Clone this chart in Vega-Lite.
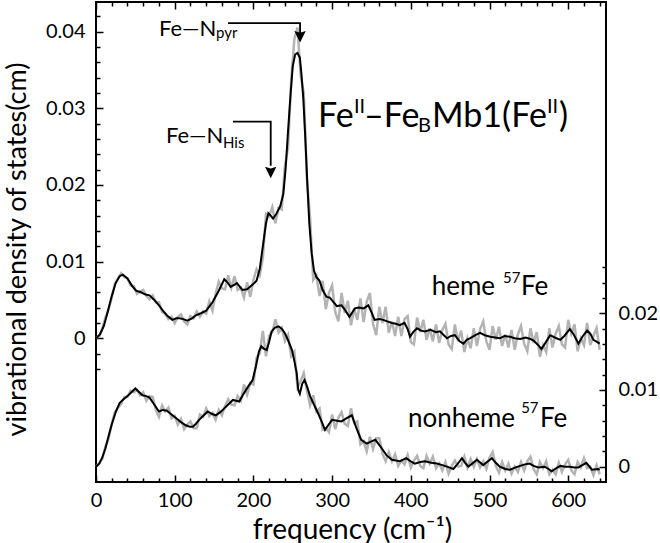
{
  "$schema": "https://vega.github.io/schema/vega-lite/v6.json",
  "width": 510,
  "height": 480,
  "autosize": "none",
  "padding": {"left": 96, "top": 2, "right": 54, "bottom": 61},
  "config": {
    "view": {"stroke": "black", "strokeWidth": 2},
    "font": "Lato",
    "axis": {"grid": false, "domain": false, "labelFont": "Lato", "labelFontSize": 20, "labelColor": "black", "tickColor": "black", "tickWidth": 1.5, "titleFont": "Lato", "titleFontWeight": "normal", "titleColor": "black", "labelFlush": false, "labelOverlap": false},
    "text": {"font": "Lato", "color": "black"}
  },
  "datasets": {
    "hemeFit": [
      {"f":0,"v":0},{"f":5,"v":0.0005},{"f":10,"v":0.0016},{"f":15,"v":0.0035},{"f":20,"v":0.0055},{"f":25,"v":0.0072},{"f":30,"v":0.0081},{"f":34,"v":0.0083},{"f":40,"v":0.0078},{"f":46,"v":0.0068},{"f":51,"v":0.0062},{"f":57,"v":0.006},{"f":63,"v":0.0057},{"f":68,"v":0.0056},{"f":74,"v":0.005},{"f":80,"v":0.0043},{"f":85,"v":0.0036},{"f":91,"v":0.0029},{"f":97,"v":0.0024},{"f":102,"v":0.0026},{"f":106,"v":0.0026},{"f":111,"v":0.0025},{"f":116,"v":0.0023},{"f":122,"v":0.0026},{"f":127,"v":0.003},{"f":134,"v":0.0033},{"f":140,"v":0.0036},{"f":148,"v":0.0047},{"f":156,"v":0.0062},{"f":163,"v":0.0077},{"f":167,"v":0.0073},{"f":171,"v":0.0067},{"f":176,"v":0.007},{"f":179,"v":0.0072},{"f":186,"v":0.0063},{"f":192,"v":0.0064},{"f":199,"v":0.007},{"f":204,"v":0.0075},{"f":208,"v":0.009},{"f":212,"v":0.012},{"f":216,"v":0.015},{"f":219,"v":0.0163},{"f":222,"v":0.016},{"f":225,"v":0.0156},{"f":229,"v":0.0162},{"f":234,"v":0.0172},{"f":238,"v":0.0188},{"f":241,"v":0.0222},{"f":244,"v":0.027},{"f":247,"v":0.0315},{"f":250,"v":0.0355},{"f":253,"v":0.037},{"f":256,"v":0.0372},{"f":259,"v":0.0366},{"f":261,"v":0.0345},{"f":263.5,"v":0.0311},{"f":266,"v":0.026},{"f":268.5,"v":0.0202},{"f":271,"v":0.015},{"f":274,"v":0.0111},{"f":277,"v":0.0088},{"f":280,"v":0.008},{"f":284,"v":0.0075},{"f":288,"v":0.0063},{"f":293,"v":0.0054},{"f":297,"v":0.0053},{"f":301,"v":0.0048},{"f":306,"v":0.0042},{"f":312,"v":0.0043},{"f":317,"v":0.0036},{"f":322,"v":0.0028},{"f":329,"v":0.0039},{"f":334,"v":0.004},{"f":340,"v":0.0039},{"f":346,"v":0.0043},{"f":350,"v":0.0034},{"f":354,"v":0.0024},{"f":360,"v":0.0025},{"f":365,"v":0.0024},{"f":370,"v":0.0022},{"f":376,"v":0.002},{"f":381,"v":0.0019},{"f":386,"v":0.0017},{"f":392,"v":0.002},{"f":396,"v":0.0012},{"f":399,"v":0.0002},{"f":403,"v":0.0008},{"f":408,"v":0.0013},{"f":413,"v":0.001},{"f":418,"v":0.0009},{"f":425,"v":0.0011},{"f":432,"v":0.0008},{"f":437,"v":0.0009},{"f":442,"v":0.0004},{"f":446,"v":0},{"f":451,"v":0.0003},{"f":456,"v":0.0004},{"f":462,"v":-0.0004},{"f":467,"v":-0.0007},{"f":471,"v":-0.0002},{"f":475,"v":0},{"f":482,"v":0.0004},{"f":488,"v":0.0007},{"f":494,"v":0.0004},{"f":501,"v":0.0002},{"f":507,"v":0.0001},{"f":513,"v":0},{"f":519,"v":0.0003},{"f":526,"v":0.0002},{"f":532,"v":0},{"f":539,"v":-0.0001},{"f":546,"v":0.0001},{"f":552,"v":-0.0001},{"f":556,"v":-0.0003},{"f":561,"v":-0.0008},{"f":566,"v":-0.0014},{"f":571,"v":-0.0006},{"f":577,"v":0.0004},{"f":583,"v":0.0001},{"f":590,"v":-0.0002},{"f":595,"v":0.0003},{"f":602,"v":0.0012},{"f":607,"v":0.0005},{"f":613,"v":-0.0007},{"f":618,"v":0.0002},{"f":624,"v":0.001},{"f":628,"v":0.0006},{"f":632,"v":-0.0002},{"f":637,"v":-0.0005},{"f":640,"v":-0.0007}
    ],
    "hemeRaw": [
      {"f":0,"v":0.0001},{"f":4,"v":0.0002},{"f":8,"v":0.0013},{"f":12,"v":0.0027},{"f":16,"v":0.0038},{"f":20,"v":0.0053},{"f":24,"v":0.0071},{"f":28,"v":0.0078},{"f":32,"v":0.0085},{"f":36,"v":0.008},{"f":40,"v":0.0078},{"f":44,"v":0.0069},{"f":48,"v":0.0068},{"f":52,"v":0.0058},{"f":56,"v":0.0061},{"f":60,"v":0.0063},{"f":64,"v":0.0055},{"f":68,"v":0.0051},{"f":72,"v":0.0056},{"f":76,"v":0.0047},{"f":80,"v":0.0047},{"f":84,"v":0.0034},{"f":88,"v":0.0032},{"f":92,"v":0.0025},{"f":96,"v":0.0028},{"f":100,"v":0.002},{"f":104,"v":0.0028},{"f":108,"v":0.0031},{"f":112,"v":0.0022},{"f":116,"v":0.0018},{"f":120,"v":0.0029},{"f":124,"v":0.0026},{"f":128,"v":0.0035},{"f":132,"v":0.0028},{"f":136,"v":0.0035},{"f":140,"v":0.0032},{"f":144,"v":0.0048},{"f":148,"v":0.0036},{"f":152,"v":0.0058},{"f":156,"v":0.0074},{"f":160,"v":0.0065},{"f":164,"v":0.0064},{"f":168,"v":0.0082},{"f":172,"v":0.0066},{"f":176,"v":0.0081},{"f":180,"v":0.0063},{"f":184,"v":0.0066},{"f":188,"v":0.0053},{"f":192,"v":0.0073},{"f":196,"v":0.0054},{"f":200,"v":0.0076},{"f":204,"v":0.009},{"f":208,"v":0.0082},{"f":212,"v":0.0105},{"f":216,"v":0.0162},{"f":220,"v":0.0159},{"f":224,"v":0.0171},{"f":228,"v":0.015},{"f":232,"v":0.017},{"f":236,"v":0.0168},{"f":240,"v":0.0225},{"f":244,"v":0.0248},{"f":248,"v":0.0336},{"f":252,"v":0.039},{"f":256,"v":0.0405},{"f":260,"v":0.0343},{"f":264,"v":0.032},{"f":268,"v":0.0208},{"f":272,"v":0.0157},{"f":276,"v":0.0076},{"f":280,"v":0.0082},{"f":284,"v":0.0055},{"f":288,"v":0.0075},{"f":292,"v":0.0038},{"f":296,"v":0.0059},{"f":300,"v":0.0069},{"f":304,"v":0.0034},{"f":308,"v":0.0022},{"f":312,"v":0.0059},{"f":316,"v":0.0033},{"f":320,"v":0.0049},{"f":324,"v":0.0017},{"f":328,"v":0.0039},{"f":332,"v":0.0024},{"f":336,"v":0.0052},{"f":340,"v":0.0021},{"f":344,"v":0.0048},{"f":348,"v":0.0059},{"f":352,"v":0.0019},{"f":356,"v":0.0004},{"f":360,"v":0.0041},{"f":364,"v":0.002},{"f":368,"v":0.0041},{"f":372,"v":0.0007},{"f":376,"v":0.0022},{"f":380,"v":0.0003},{"f":384,"v":0.0028},{"f":388,"v":0.0003},{"f":392,"v":0.0025},{"f":396,"v":0.0029},{"f":400,"v":-0.0005},{"f":404,"v":-0.0008},{"f":408,"v":0.0027},{"f":412,"v":0.0008},{"f":416,"v":0.0024},{"f":420,"v":-0.0002},{"f":424,"v":0.0013},{"f":428,"v":-0.0004},{"f":432,"v":0.0018},{"f":436,"v":-0.0006},{"f":440,"v":0.0011},{"f":444,"v":0.0019},{"f":448,"v":-0.0008},{"f":452,"v":-0.0014},{"f":456,"v":0.0018},{"f":460,"v":-0.0004},{"f":464,"v":0.001},{"f":468,"v":-0.0018},{"f":472,"v":0},{"f":476,"v":-0.0013},{"f":480,"v":0.0013},{"f":484,"v":-0.001},{"f":488,"v":0.0012},{"f":492,"v":0.0022},{"f":496,"v":-0.0004},{"f":500,"v":-0.0015},{"f":504,"v":0.0016},{"f":508,"v":-0.0002},{"f":512,"v":0.0015},{"f":516,"v":-0.001},{"f":520,"v":0.0005},{"f":524,"v":-0.0012},{"f":528,"v":0.0011},{"f":532,"v":-0.0015},{"f":536,"v":0.0005},{"f":540,"v":0.0016},{"f":544,"v":-0.0007},{"f":548,"v":-0.0017},{"f":552,"v":0.0013},{"f":556,"v":-0.0006},{"f":560,"v":0.0008},{"f":564,"v":-0.0024},{"f":568,"v":-0.0009},{"f":572,"v":-0.0018},{"f":576,"v":0.0013},{"f":580,"v":-0.0012},{"f":584,"v":0.0006},{"f":588,"v":0.0016},{"f":592,"v":-0.0008},{"f":596,"v":-0.0012},{"f":600,"v":0.0024},{"f":604,"v":0.0006},{"f":608,"v":0.0018},{"f":612,"v":-0.0017},{"f":616,"v":0},{"f":620,"v":-0.0009},{"f":624,"v":0.002},{"f":628,"v":-0.0009},{"f":632,"v":0.0003},{"f":636,"v":0.0013},{"f":640,"v":-0.0015}
    ],
    "nhFit": [
      {"f":0,"v":0},{"f":4,"v":0.0004},{"f":8,"v":0.0012},{"f":12,"v":0.0024},{"f":16,"v":0.004},{"f":20,"v":0.0055},{"f":25,"v":0.0071},{"f":30,"v":0.0083},{"f":35,"v":0.0088},{"f":40,"v":0.0092},{"f":45,"v":0.0097},{"f":50,"v":0.0102},{"f":55,"v":0.0097},{"f":59,"v":0.0093},{"f":64,"v":0.0092},{"f":68,"v":0.009},{"f":74,"v":0.0081},{"f":80,"v":0.0072},{"f":85,"v":0.0074},{"f":90,"v":0.0073},{"f":96,"v":0.0068},{"f":102,"v":0.0063},{"f":108,"v":0.0058},{"f":114,"v":0.0054},{"f":119,"v":0.0052},{"f":123,"v":0.0052},{"f":127,"v":0.0056},{"f":131,"v":0.0061},{"f":137,"v":0.0067},{"f":142,"v":0.0072},{"f":147,"v":0.0069},{"f":152,"v":0.0067},{"f":158,"v":0.0071},{"f":163,"v":0.0076},{"f":168,"v":0.0081},{"f":174,"v":0.0087},{"f":178,"v":0.0086},{"f":182,"v":0.0085},{"f":187,"v":0.0094},{"f":193,"v":0.0104},{"f":199,"v":0.0113},{"f":203,"v":0.013},{"f":207,"v":0.015},{"f":210,"v":0.0157},{"f":213,"v":0.0154},{"f":217,"v":0.0152},{"f":220,"v":0.0163},{"f":223,"v":0.0176},{"f":227,"v":0.0181},{"f":232,"v":0.0183},{"f":236,"v":0.018},{"f":240,"v":0.0174},{"f":244,"v":0.0165},{"f":249,"v":0.0152},{"f":252,"v":0.0138},{"f":255,"v":0.0122},{"f":257,"v":0.01},{"f":259,"v":0.0095},{"f":262,"v":0.0108},{"f":265,"v":0.0113},{"f":268,"v":0.0105},{"f":272,"v":0.0092},{"f":276,"v":0.0083},{"f":282,"v":0.007},{"f":287,"v":0.0058},{"f":291,"v":0.0048},{"f":295,"v":0.0054},{"f":300,"v":0.0061},{"f":306,"v":0.006},{"f":312,"v":0.0059},{"f":318,"v":0.0063},{"f":325,"v":0.0067},{"f":331,"v":0.005},{"f":337,"v":0.0035},{"f":344,"v":0.003},{"f":350,"v":0.0033},{"f":355,"v":0.0035},{"f":363,"v":0.0024},{"f":369,"v":0.0015},{"f":376,"v":0.0009},{"f":386,"v":0.0007},{"f":394,"v":0.0011},{"f":400,"v":0.0007},{"f":405,"v":0.0004},{"f":412,"v":0.0006},{"f":418,"v":0.0007},{"f":426,"v":0.0005},{"f":433,"v":0.0004},{"f":440,"v":0.0002},{"f":446,"v":0},{"f":454,"v":-0.0003},{"f":459,"v":0.0003},{"f":465,"v":0.0011},{"f":469,"v":0.0005},{"f":473,"v":0},{"f":478,"v":0.0004},{"f":484,"v":0.0009},{"f":492,"v":0.0002},{"f":498,"v":0.0007},{"f":503,"v":0.0011},{"f":508,"v":0.0005},{"f":513,"v":0},{"f":520,"v":-0.0003},{"f":526,"v":-0.0004},{"f":533,"v":-0.0001},{"f":539,"v":0.0001},{"f":545,"v":0.0003},{"f":551,"v":0.0004},{"f":556,"v":0.0001},{"f":562,"v":-0.0001},{"f":570,"v":0},{"f":575,"v":-0.0003},{"f":579,"v":-0.0006},{"f":585,"v":-0.0002},{"f":590,"v":0.0001},{"f":596,"v":0},{"f":602,"v":0},{"f":608,"v":-0.0001},{"f":613,"v":-0.0001},{"f":618,"v":0.0002},{"f":623,"v":0.0005},{"f":627,"v":0},{"f":630,"v":-0.0004},{"f":638,"v":-0.0003},{"f":640,"v":-0.0004}
    ],
    "nhRaw": [
      {"f":0,"v":0},{"f":4,"v":0.0004},{"f":8,"v":0.001},{"f":12,"v":0.0026},{"f":16,"v":0.0037},{"f":20,"v":0.0056},{"f":24,"v":0.0071},{"f":28,"v":0.0077},{"f":32,"v":0.0082},{"f":36,"v":0.0091},{"f":40,"v":0.0091},{"f":44,"v":0.0099},{"f":48,"v":0.0097},{"f":52,"v":0.01},{"f":56,"v":0.0093},{"f":60,"v":0.0097},{"f":64,"v":0.0086},{"f":68,"v":0.0092},{"f":72,"v":0.0091},{"f":76,"v":0.0074},{"f":80,"v":0.0065},{"f":84,"v":0.008},{"f":88,"v":0.0072},{"f":92,"v":0.0077},{"f":96,"v":0.0063},{"f":100,"v":0.0066},{"f":104,"v":0.0055},{"f":108,"v":0.0062},{"f":112,"v":0.0049},{"f":116,"v":0.0055},{"f":120,"v":0.0059},{"f":124,"v":0.005},{"f":128,"v":0.005},{"f":132,"v":0.0068},{"f":136,"v":0.0065},{"f":140,"v":0.0076},{"f":144,"v":0.0066},{"f":148,"v":0.007},{"f":152,"v":0.0061},{"f":156,"v":0.0074},{"f":160,"v":0.0067},{"f":164,"v":0.0079},{"f":168,"v":0.0088},{"f":172,"v":0.0081},{"f":176,"v":0.008},{"f":180,"v":0.0092},{"f":184,"v":0.0086},{"f":188,"v":0.0107},{"f":192,"v":0.0094},{"f":196,"v":0.0109},{"f":200,"v":0.0107},{"f":204,"v":0.0142},{"f":208,"v":0.0148},{"f":212,"v":0.0177},{"f":216,"v":0.0144},{"f":220,"v":0.0171},{"f":224,"v":0.0175},{"f":228,"v":0.0192},{"f":232,"v":0.0175},{"f":236,"v":0.0181},{"f":240,"v":0.0164},{"f":244,"v":0.0172},{"f":248,"v":0.0144},{"f":252,"v":0.015},{"f":256,"v":0.0104},{"f":260,"v":0.0111},{"f":264,"v":0.0122},{"f":268,"v":0.0099},{"f":272,"v":0.008},{"f":276,"v":0.0093},{"f":280,"v":0.0072},{"f":284,"v":0.0076},{"f":288,"v":0.0048},{"f":292,"v":0.005},{"f":296,"v":0.0045},{"f":300,"v":0.0068},{"f":304,"v":0.0049},{"f":308,"v":0.0064},{"f":312,"v":0.0071},{"f":316,"v":0.0056},{"f":320,"v":0.0053},{"f":324,"v":0.0076},{"f":328,"v":0.0057},{"f":332,"v":0.0059},{"f":336,"v":0.0029},{"f":340,"v":0.0033},{"f":344,"v":0.002},{"f":348,"v":0.0039},{"f":352,"v":0.0023},{"f":356,"v":0.0037},{"f":360,"v":0.0037},{"f":364,"v":0.0017},{"f":368,"v":0.0007},{"f":372,"v":0.0019},{"f":376,"v":0.0007},{"f":380,"v":0.0016},{"f":384,"v":0.0001},{"f":388,"v":0.0008},{"f":392,"v":0.0003},{"f":396,"v":0.0015},{"f":400,"v":-0.0001},{"f":404,"v":0.0008},{"f":408,"v":0.0014},{"f":412,"v":0.0001},{"f":416,"v":-0.0002},{"f":420,"v":0.0014},{"f":424,"v":0.0004},{"f":428,"v":0.0013},{"f":432,"v":-0.0002},{"f":436,"v":0.0004},{"f":440,"v":-0.0005},{"f":444,"v":0.0006},{"f":448,"v":-0.0009},{"f":452,"v":0.0001},{"f":456,"v":0.0008},{"f":460,"v":0},{"f":464,"v":0.0001},{"f":468,"v":0.0013},{"f":472,"v":-0.0001},{"f":476,"v":0.001},{"f":480,"v":0},{"f":484,"v":0.001},{"f":488,"v":-0.0001},{"f":492,"v":0.0007},{"f":496,"v":-0.0003},{"f":500,"v":0.0012},{"f":504,"v":0.0019},{"f":508,"v":0.0001},{"f":512,"v":-0.0008},{"f":516,"v":0.0006},{"f":520,"v":-0.0005},{"f":524,"v":0.0004},{"f":528,"v":-0.0009},{"f":532,"v":0},{"f":536,"v":-0.0007},{"f":540,"v":0.0006},{"f":544,"v":-0.0005},{"f":548,"v":0.0007},{"f":552,"v":0.0013},{"f":556,"v":-0.0003},{"f":560,"v":-0.001},{"f":564,"v":0.0006},{"f":568,"v":-0.0002},{"f":572,"v":0.0007},{"f":576,"v":-0.001},{"f":580,"v":-0.0004},{"f":584,"v":-0.001},{"f":588,"v":0.0005},{"f":592,"v":-0.0007},{"f":596,"v":0.0003},{"f":600,"v":0.0009},{"f":604,"v":-0.0005},{"f":608,"v":-0.001},{"f":612,"v":0.0006},{"f":616,"v":-0.0001},{"f":620,"v":0.0011},{"f":624,"v":-0.0002},{"f":628,"v":0},{"f":632,"v":-0.0011},{"f":636,"v":0.0002},{"f":640,"v":-0.001}
    ],
    "titleMain": [
      {"t":"Fe","f":282.1,"v":0.02759},{"t":"–Fe","f":340.5,"v":0.02759},{"t":"Mb1(Fe","f":426.9,"v":0.02759},{"t":")","f":588.3,"v":0.02759}
    ],
    "titleSup": [
      {"t":"II","f":327.8,"v":0.02937},{"t":"II","f":573,"v":0.02937}
    ],
    "titleSub": [
      {"t":"B","f":409.1,"v":0.02694}
    ],
    "labels": [
      {"t":"heme","f":426.5,"v":0.00565},{"t":"Fe","f":540,"v":0.00565},{"t":"nonheme","f":396.4,"v":-0.01153},{"t":"Fe","f":564.1,"v":-0.01153}
    ],
    "labelSup": [
      {"t":"57","f":517.1,"v":0.00721},{"t":"57","f":540.2,"v":-0.00974}
    ],
    "peak": [
      {"t":"Fe—N","f":80,"v":0.03945},{"t":"Fe—N","f":88.9,"v":0.0255}
    ],
    "peakSub": [
      {"t":"pyr","f":152.5,"v":0.0392},{"t":"His","f":161.4,"v":0.02477}
    ],
    "arrows": [
      {"id":"pyr","i":0,"f":167.7,"v":0.0411},{"id":"pyr","i":1,"f":259.3,"v":0.0411},{"id":"pyr","i":2,"f":259.3,"v":0.0395},
      {"id":"his","i":0,"f":174,"v":0.02824},{"id":"his","i":1,"f":222,"v":0.02824},{"id":"his","i":2,"f":222,"v":0.0225}
    ],
    "heads": [
      {"f":259.3,"v":0.03932},{"f":222,"v":0.02162}
    ]
  },
  "layer": [
    {
      "layer": [
        {
          "data": {"name": "hemeRaw"},
          "mark": {"type": "line", "color": "#b3b3b3", "strokeWidth": 2.5},
          "encoding": {
            "x": {"field": "f", "type": "quantitative", "scale": {"domain": [0, 648], "nice": false, "zero": false},
                  "axis": {"orient": "bottom", "values": [0,100,200,300,400,500,600], "tickSize": -7, "labelPadding": 15, "title": "frequency (cm⁻¹)", "titleFontSize": 28, "titleX": 256, "titleY": 56, "titleBaseline": "alphabetic", "titleAlign": "center"}},
            "y": {"field": "v", "type": "quantitative", "scale": {"domain": [-0.01874, 0.04385], "nice": false, "zero": false},
                  "axis": {"orient": "left", "values": [0,0.01,0.02,0.03,0.04], "format": ".2~f", "tickSize": -7, "labelPadding": 18, "title": "vibrational density of states(cm)", "titleFontSize": 27, "titleX": -71, "titleY": 247, "titleAngle": -90, "titleBaseline": "alphabetic", "titleAlign": "center"}}
          }
        },
        {
          "data": {"name": "hemeFit"},
          "mark": {"type": "line", "color": "black", "strokeWidth": 2},
          "encoding": {
            "x": {"field": "f", "type": "quantitative", "scale": {"domain": [0, 648], "nice": false, "zero": false},
                  "axis": {"orient": "bottom", "values": [20,40,60,80,120,140,160,180,220,240,260,280,320,340,360,380,420,440,460,480,520,540,560,580,620,640], "tickSize": -4, "labels": false, "title": null}},
            "y": {"field": "v", "type": "quantitative", "scale": {"domain": [-0.01874, 0.04385], "nice": false, "zero": false},
                  "axis": {"orient": "left", "values": [-0.004,-0.002,0.002,0.004,0.006,0.008,0.012,0.014,0.016,0.018,0.022,0.024,0.026,0.028,0.032,0.034,0.036,0.038,0.042], "tickSize": -4, "labels": false, "title": null}}
          }
        },
        {
          "mark": {"type": "rule", "color": "black", "strokeWidth": 1.5, "strokeDash": [4, 4]},
          "encoding": {
            "y": {"datum": 0, "type": "quantitative", "scale": {"domain": [-0.01874, 0.04385], "nice": false, "zero": false}, "axis": null}
          }
        },
        {
          "data": {"name": "arrows"},
          "mark": {"type": "line", "color": "black", "strokeWidth": 1.8},
          "encoding": {
            "x": {"field": "f", "type": "quantitative", "scale": {"domain": [0, 648], "nice": false, "zero": false}, "axis": null},
            "y": {"field": "v", "type": "quantitative", "scale": {"domain": [-0.01874, 0.04385], "nice": false, "zero": false}, "axis": null},
            "detail": {"field": "id"},
            "order": {"field": "i", "type": "quantitative"}
          }
        },
        {
          "data": {"name": "heads"},
          "mark": {"type": "point", "shape": "M0,1L-1,-1L0,-0.7L1,-1Z", "filled": true, "color": "black", "size": 130, "opacity": 1},
          "encoding": {
            "x": {"field": "f", "type": "quantitative", "scale": {"domain": [0, 648], "nice": false, "zero": false}, "axis": null},
            "y": {"field": "v", "type": "quantitative", "scale": {"domain": [-0.01874, 0.04385], "nice": false, "zero": false}, "axis": null}
          }
        },
        {
          "data": {"name": "titleMain"},
          "mark": {"type": "text", "fontSize": 34, "align": "left", "baseline": "alphabetic", "color": "black"},
          "encoding": {
            "x": {"field": "f", "type": "quantitative", "scale": {"domain": [0, 648], "nice": false, "zero": false},
                  "axis": {"orient": "top", "values": [0,100,200,300,400,500,600], "tickSize": -7, "labels": false, "title": null}},
            "y": {"field": "v", "type": "quantitative", "scale": {"domain": [-0.01874, 0.04385], "nice": false, "zero": false}, "axis": null},
            "text": {"field": "t"}
          }
        },
        {
          "data": {"name": "titleSup"},
          "mark": {"type": "text", "fontSize": 20, "align": "left", "baseline": "alphabetic", "color": "black"},
          "encoding": {
            "x": {"field": "f", "type": "quantitative", "scale": {"domain": [0, 648], "nice": false, "zero": false},
                  "axis": {"orient": "top", "values": [20,40,60,80,120,140,160,180,220,240,260,280,320,340,360,380,420,440,460,480,520,540,560,580,620,640], "tickSize": -4, "labels": false, "title": null}},
            "y": {"field": "v", "type": "quantitative", "scale": {"domain": [-0.01874, 0.04385], "nice": false, "zero": false}, "axis": null},
            "text": {"field": "t"}
          }
        },
        {
          "data": {"name": "titleSub"},
          "mark": {"type": "text", "fontSize": 20, "align": "left", "baseline": "alphabetic", "color": "black"},
          "encoding": {
            "x": {"field": "f", "type": "quantitative", "scale": {"domain": [0, 648], "nice": false, "zero": false}, "axis": null},
            "y": {"field": "v", "type": "quantitative", "scale": {"domain": [-0.01874, 0.04385], "nice": false, "zero": false}, "axis": null},
            "text": {"field": "t"}
          }
        },
        {
          "data": {"name": "labels"},
          "mark": {"type": "text", "fontSize": 26, "align": "left", "baseline": "alphabetic", "color": "black"},
          "encoding": {
            "x": {"field": "f", "type": "quantitative", "scale": {"domain": [0, 648], "nice": false, "zero": false}, "axis": null},
            "y": {"field": "v", "type": "quantitative", "scale": {"domain": [-0.01874, 0.04385], "nice": false, "zero": false}, "axis": null},
            "text": {"field": "t"}
          }
        },
        {
          "data": {"name": "labelSup"},
          "mark": {"type": "text", "fontSize": 15, "align": "left", "baseline": "alphabetic", "color": "black"},
          "encoding": {
            "x": {"field": "f", "type": "quantitative", "scale": {"domain": [0, 648], "nice": false, "zero": false}, "axis": null},
            "y": {"field": "v", "type": "quantitative", "scale": {"domain": [-0.01874, 0.04385], "nice": false, "zero": false}, "axis": null},
            "text": {"field": "t"}
          }
        },
        {
          "data": {"name": "peak"},
          "mark": {"type": "text", "fontSize": 22, "align": "left", "baseline": "alphabetic", "color": "black"},
          "encoding": {
            "x": {"field": "f", "type": "quantitative", "scale": {"domain": [0, 648], "nice": false, "zero": false}, "axis": null},
            "y": {"field": "v", "type": "quantitative", "scale": {"domain": [-0.01874, 0.04385], "nice": false, "zero": false}, "axis": null},
            "text": {"field": "t"}
          }
        },
        {
          "data": {"name": "peakSub"},
          "mark": {"type": "text", "fontSize": 15, "align": "left", "baseline": "alphabetic", "color": "black"},
          "encoding": {
            "x": {"field": "f", "type": "quantitative", "scale": {"domain": [0, 648], "nice": false, "zero": false}, "axis": null},
            "y": {"field": "v", "type": "quantitative", "scale": {"domain": [-0.01874, 0.04385], "nice": false, "zero": false}, "axis": null},
            "text": {"field": "t"}
          }
        }
      ],
      "resolve": {"axis": {"x": "independent", "y": "independent"}}
    },
    {
      "layer": [
        {
          "data": {"name": "nhRaw"},
          "mark": {"type": "line", "color": "#b3b3b3", "strokeWidth": 2.5},
          "encoding": {
            "x": {"field": "f", "type": "quantitative", "scale": {"domain": [0, 648], "nice": false, "zero": false}, "axis": null},
            "y": {"field": "v", "type": "quantitative", "scale": {"domain": [-0.002, 0.06059], "nice": false, "zero": false},
                  "axis": {"orient": "right", "values": [0, 0.01, 0.02], "format": ".2~f", "tickSize": -7, "labelPadding": 19, "title": null}}
          }
        },
        {
          "data": {"name": "nhFit"},
          "mark": {"type": "line", "color": "black", "strokeWidth": 2},
          "encoding": {
            "x": {"field": "f", "type": "quantitative", "scale": {"domain": [0, 648], "nice": false, "zero": false}, "axis": null},
            "y": {"field": "v", "type": "quantitative", "scale": {"domain": [-0.002, 0.06059], "nice": false, "zero": false},
                  "axis": {"orient": "right", "values": [0.002,0.004,0.006,0.008,0.012,0.014,0.016,0.018,0.022,0.024,0.026], "tickSize": -4, "labels": false, "title": null}}
          }
        },
        {
          "mark": {"type": "rule", "color": "black", "strokeWidth": 1.5, "strokeDash": [4, 4]},
          "encoding": {
            "y": {"datum": 0, "type": "quantitative", "scale": {"domain": [-0.002, 0.06059], "nice": false, "zero": false}, "axis": null}
          }
        }
      ],
      "resolve": {"axis": {"y": "independent"}}
    }
  ],
  "resolve": {"scale": {"y": "independent"}, "axis": {"x": "independent", "y": "independent"}}
}
